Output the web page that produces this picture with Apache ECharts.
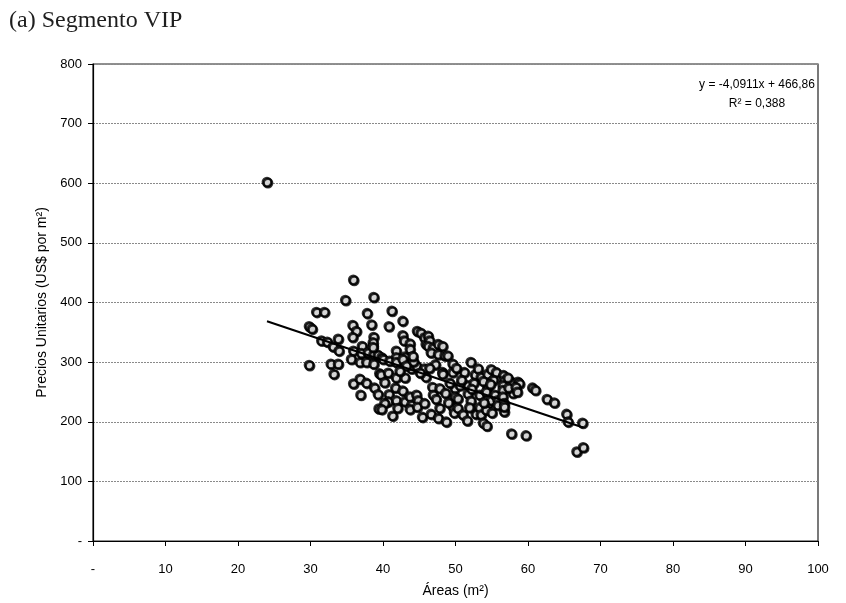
<!DOCTYPE html>
<html>
<head>
<meta charset="utf-8">
<script src="https://cdn.jsdelivr.net/npm/echarts@6/dist/echarts.min.js"></script>
<style>
html,body{margin:0;padding:0;background:#fff;}
#chart{width:846px;height:603px;}
</style>
</head>
<body>
<div id="chart"></div>
<script>
// ---- Data ----
const title = "(a) Segmento VIP";
const xAxisName = "Áreas (m²)";
const yAxisName = "Precios Unitarios (US$ por m²)";
const equationLines = ["y = -4,0911x + 466,86", "R² = 0,388"];
const trendSlope = -4.0911;
const trendIntercept = 466.86;

const areas = [
  24.0, 29.8, 30.2, 29.8, 30.8, 31.9, 31.5, 32.3, 32.8, 33.1,
  33.8, 33.9, 33.8, 33.2, 34.8, 35.9, 35.8, 36.3, 35.8, 35.9,
  35.6, 35.9, 36.8, 36.8, 36.9, 37.1, 37.0, 37.7, 37.8, 37.7,
  37.9, 38.7, 38.4, 38.7, 38.6, 38.7, 38.7, 38.8, 39.3, 39.4,
  39.5, 39.3, 38.6, 38.6, 39.8, 39.7, 40.0, 40.8, 40.9, 40.7,
  40.8, 40.7, 40.2, 39.8, 41.2, 41.8, 41.8, 41.8, 41.8, 41.7,
  41.8, 41.3, 42.0, 42.7, 42.7, 42.9, 43.0, 42.7, 43.0, 42.7,
  43.0, 43.7, 43.7, 43.9, 43.2, 43.7, 43.9, 43.7, 44.7, 45.2,
  44.6, 44.6, 44.8, 44.7, 45.7, 46.2, 45.9, 46.4, 46.2, 46.9,
  46.6, 45.7, 45.9, 45.7, 45.4, 46.8, 46.9, 46.6, 47.6, 47.6,
  47.2, 47.8, 47.8, 47.6, 48.2, 48.5, 48.9, 48.2, 48.2, 48.7,
  49.6, 49.6, 49.9, 49.9, 49.6, 49.8, 50.6, 50.3, 50.3, 51.0,
  51.6, 51.2, 51.7, 51.7, 52.1, 52.1, 52.7, 53.1, 52.8, 53.5,
  53.3, 53.3, 53.5, 54.4, 54.9, 54.4, 54.2, 54.4, 54.2, 54.9,
  55.6, 55.4, 55.8, 55.8, 56.6, 56.7, 56.5, 56.5, 56.5, 56.7,
  56.7, 57.7, 57.9, 57.7, 58.6, 58.8, 59.7, 60.6, 61.0, 62.6,
  63.6, 65.3, 65.5, 67.5, 66.7, 67.6,
  57.2, 57.3, 58.3, 58.5, 55.2, 53.8, 52.5, 50.8, 49.2, 48.6,
  47.3, 46.4, 44.2, 45.1, 49.0, 50.1, 52.2, 53.9, 55.0, 44.1,
  40.2, 42.3, 51.9, 54.8, 53.8, 54.3, 56.7
];
const prices = [
  602, 360, 356, 295, 384, 384, 336, 334, 297, 326,
  339, 319, 297, 280, 404, 438, 362, 352, 342, 319,
  305, 264, 300, 272, 245, 327, 315, 300, 382, 265,
  316, 409, 363, 342, 328, 313, 297, 257, 246, 222,
  281, 312, 333, 325, 308, 279, 305, 360, 302, 282,
  246, 234, 231, 221, 386, 319, 308, 300, 274, 257,
  236, 210, 223, 369, 345, 336, 309, 305, 274, 252,
  234, 331, 322, 289, 294, 242, 228, 221, 352, 349,
  294, 245, 236, 225, 341, 344, 330, 336, 327, 324,
  316, 289, 275, 231, 208, 258, 245, 213, 330, 313,
  296, 256, 223, 206, 327, 311, 311, 283, 280, 200,
  297, 283, 256, 242, 225, 215, 261, 239, 223, 212,
  202, 283, 261, 247, 300, 235, 279, 289, 213, 275,
  245, 224, 212, 280, 288, 258, 250, 228, 220, 236,
  283, 245, 236, 228, 278, 269, 261, 253, 242, 231,
  217, 267, 248, 180, 267, 264, 177, 257, 253, 238,
  232, 213, 200, 198, 150, 157,
  274, 257, 258, 250, 270, 268, 265, 270, 265, 248,
  238, 290, 301, 282, 232, 290, 255, 232, 215, 310,
  266, 285, 224, 263, 198, 193, 225
];

const xTicks = [0, 10, 20, 30, 40, 50, 60, 70, 80, 90, 100];
const yTicks = [0, 100, 200, 300, 400, 500, 600, 700, 800];

// ---- Build ----
const points = areas.map((a, i) => [a, prices[i]]);
const xMin = Math.min(...areas), xMax = Math.max(...areas);
const trend = [[xMin, trendIntercept + trendSlope * xMin], [xMax, trendIntercept + trendSlope * xMax]];
const sans = "'Liberation Sans', Arial, sans-serif";

const chart = echarts.init(document.getElementById('chart'), null, {renderer: 'canvas'});
chart.setOption({
  animation: false,
  backgroundColor: '#fff',
  grid: {left: 93, right: 28, top: 64, bottom: 53, show: true, borderColor: '#222', borderWidth: 1.2, backgroundColor: 'transparent'},
  title: {
    text: title, left: 4, top: 4,
    textStyle: {fontFamily: "'Liberation Serif', 'Times New Roman', serif", fontSize: 24, fontWeight: 'normal', color: '#1e1e1e'}
  },
  xAxis: {
    type: 'value', min: xTicks[0], max: xTicks[xTicks.length - 1], interval: 10,
    name: xAxisName, nameLocation: 'middle', nameGap: 43,
    nameTextStyle: {fontFamily: sans, fontSize: 14, color: '#000'},
    axisLine: {show: true, lineStyle: {color: '#000', width: 1.2}},
    axisTick: {show: true, inside: false, length: 5, lineStyle: {color: '#000'}},
    axisLabel: {fontFamily: sans, fontSize: 13, color: '#000', margin: 22,
      formatter: v => v === 0 ? '-' : String(v)},
    splitLine: {show: false}
  },
  yAxis: {
    type: 'value', min: yTicks[0], max: yTicks[yTicks.length - 1], interval: 100,
    name: yAxisName, nameLocation: 'middle', nameGap: 32,
    nameTextStyle: {fontFamily: sans, fontSize: 14, color: '#000'},
    axisLine: {show: true, lineStyle: {color: '#000', width: 1.2}},
    axisTick: {show: true, inside: false, length: 5, lineStyle: {color: '#000'}},
    axisLabel: {fontFamily: sans, fontSize: 13, color: '#000', margin: 11,
      formatter: v => v === 0 ? '-' : String(v)},
    splitLine: {show: true, lineStyle: {color: '#8a8a8a', width: 1, type: [2, 1]}}
  },
  series: [
    {
      type: 'scatter', data: points, symbol: 'circle', symbolSize: 8.5,
      itemStyle: {color: '#fff', borderColor: '#000', borderWidth: 2.3,
        shadowColor: '#000', shadowBlur: 0, shadowOffsetX: 1, shadowOffsetY: 1},
      z: 2
    },
    {
      type: 'line', data: trend, symbol: 'none',
      lineStyle: {color: '#000', width: 2}, z: 3
    }
  ],
  graphic: [
    {type: 'text', x: 757, y: 75, z: 10,
      style: {text: equationLines.join('\n'), font: "12px 'Liberation Sans', Arial, sans-serif", fill: '#000', align: 'center', verticalAlign: 'top', lineHeight: 19}}
  ]
});
</script>
</body>
</html>
